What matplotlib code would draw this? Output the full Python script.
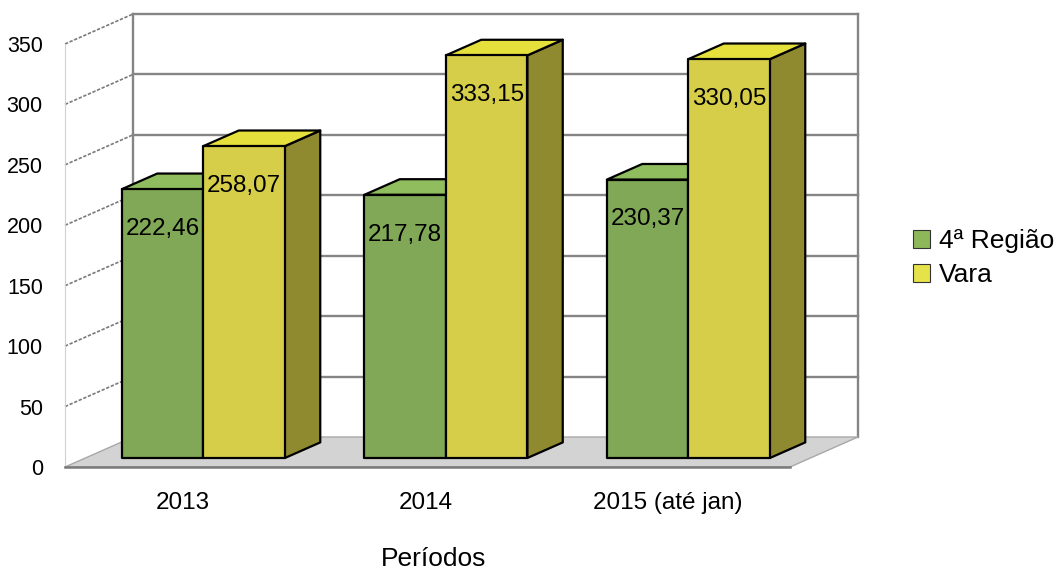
import matplotlib
matplotlib.use("Agg")
import matplotlib.pyplot as plt
from matplotlib.patches import Polygon, Patch

plt.rcParams['font.family'] = ['Liberation Sans', 'DejaVu Sans']

# data
periodos = ['2013', '2014', '2015 (até jan)']
regiao = [222.46, 217.78, 230.37]
vara = [258.07, 333.15, 330.05]
series_names = ['4ª Região', 'Vara']
yticks = [0, 50, 100, 150, 200, 250, 300, 350]

W, H = 1061, 572
fig = plt.figure(figsize=(W / 100, H / 100), dpi=100)

# front plane of the fake 3d box, in pixels
px_l, px_r, px_top, px_bot = 65, 790, 44, 467
ax = fig.add_axes([px_l / W, (H - px_bot) / H, (px_r - px_l) / W, (px_bot - px_top) / H])
grp_px = 242.5
x0_px = 183
xmin = (px_l - x0_px) / grp_px
xmax = (px_r - x0_px) / grp_px
ymax = 350
ax.set_xlim(xmin, xmax)
ax.set_ylim(0, ymax)
ypx = (px_bot - px_top) / ymax

# depth offset (full depth) in data units
ddx = 68 / grp_px
ddy = 30 / ypx


def P(x, v, d):
    return (x + d * ddx, v + d * ddy)


def poly(pts, fc, ec, lw=1.0, z=1):
    ax.add_patch(Polygon(pts, closed=True, facecolor=fc, edgecolor=ec,
                         linewidth=lw, zorder=z, clip_on=False, joinstyle='round'))


# back wall
poly([P(xmin, 0, 1), P(xmax, 0, 1), P(xmax, ymax, 1), P(xmin, ymax, 1)], 'white', 'none', z=0)
for v in yticks[1:]:
    a, b = P(xmin, v, 1), P(xmax, v, 1)
    ax.plot([a[0], b[0]], [a[1], b[1]], color='#858585', lw=1.7, zorder=1, clip_on=False)
    a, b = P(xmin, v, 0), P(xmin, v, 1)
    ax.plot([a[0], b[0]], [a[1], b[1]], color='#7a7a7a', lw=1.2, ls=(0, (2, 1)), zorder=1, clip_on=False)
for xx in (xmin, xmax):
    a, b = P(xx, 0, 1), P(xx, ymax, 1)
    ax.plot([a[0], b[0]], [a[1], b[1]], color='#858585', lw=1.7, zorder=1, clip_on=False)
ax.plot([xmin, xmin], [0, ymax], color='#d0d0d0', lw=0.8, zorder=1, clip_on=False)

# floor
poly([P(xmin, 0, 0), P(xmax, 0, 0), P(xmax, 0, 1), P(xmin, 0, 1)], '#d3d3d3', '#a8a8a8', lw=1.0, z=1)
ax.plot([xmin, xmax], [0, 0], color='#7a7a7a', lw=1.8, zorder=1.5, clip_on=False)

# bars
bw = 81.5 / grp_px
d0, d1 = 0.3, 0.82
cols = [('#80a857', '#90bd5e', '#5f7f3e'),
        ('#d6ce48', '#e6e03c', '#8f8a30')]
for i in range(len(periodos)):
    for k, vals in enumerate([regiao, vara]):
        h = vals[i]
        xa = i - bw + k * bw
        xb = xa + bw
        front, top, side = cols[k]
        poly([P(xb, 0, d0), P(xb, 0, d1), P(xb, h, d1), P(xb, h, d0)], side, 'black', 1.6, 3)
        poly([P(xa, h, d0), P(xb, h, d0), P(xb, h, d1), P(xa, h, d1)], top, 'black', 1.6, 3)
        poly([P(xa, 0, d0), P(xb, 0, d0), P(xb, h, d0), P(xa, h, d0)], front, 'black', 1.6, 3)
        lx, ly = P((xa + xb) / 2, h - 33, d0)
        ax.text(lx, ly, f'{h:.2f}'.replace('.', ','), ha='center', va='center',
                fontsize=17.5, color='black', zorder=5)

for s in ax.spines.values():
    s.set_visible(False)
ax.set_xticks(range(len(periodos)))
ax.set_xticklabels(periodos)
ax.set_yticks(yticks)
ax.tick_params(axis='x', length=0, pad=18, labelsize=17.5)
ax.tick_params(axis='y', length=0, pad=16, labelsize=15.5)

fig.text(434 / W, 1 - 559 / H, 'Períodos', ha='center', va='center', fontsize=19)

handles = [Patch(facecolor='#8db85a', edgecolor='#333333', lw=0.8),
           Patch(facecolor='#e6e24a', edgecolor='#333333', lw=0.8)]
fig.legend(handles, series_names, loc='center left', bbox_to_anchor=(913 / W, 1 - 258 / H),
           frameon=False, fontsize=19, handlelength=0.65, handleheight=0.65,
           handletextpad=0.35, labelspacing=0.38, borderpad=0, borderaxespad=0)

fig.savefig('out.png', dpi=100)
